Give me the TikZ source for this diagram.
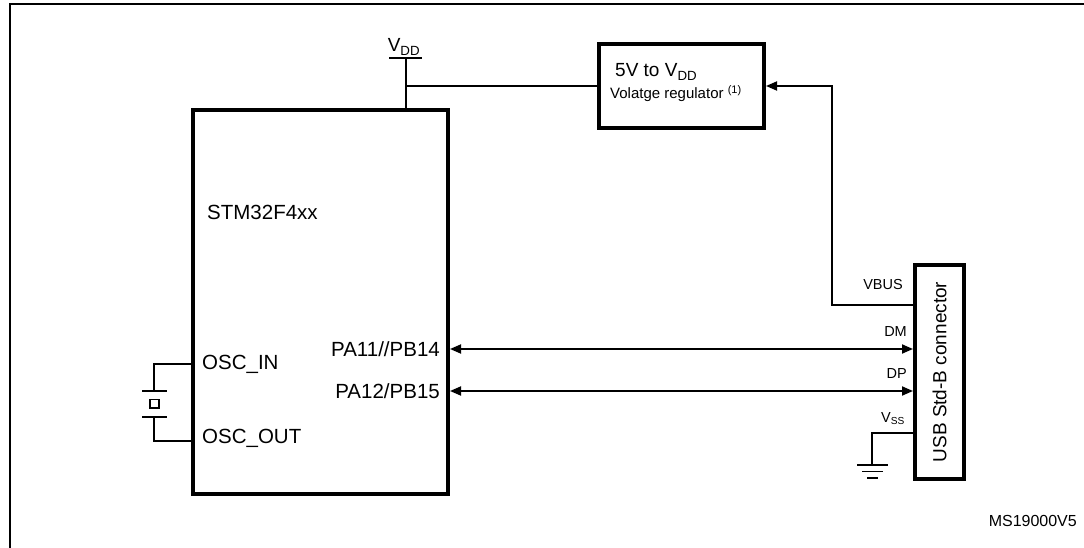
\documentclass[tikz,border=0pt]{standalone}
\usepackage{fontspec}
\setmainfont{Liberation Sans}
\usetikzlibrary{arrows.meta}
\begin{document}
\begin{tikzpicture}[x=1pt,y=-1pt,line join=miter,
  box/.style={draw,line width=4pt,inner sep=0pt,anchor=north west},
  wire/.style={line width=1.8pt},
  frame/.style={line width=2pt},
  tipd/.style={-{Triangle[length=11pt,width=9pt]}},
  tipb/.style={{Triangle[length=11pt,width=9pt]}-{Triangle[length=11pt,width=9pt]}},
  big/.style={font=\fontsize{20.5}{23}\selectfont,inner sep=0pt},
  mid/.style={font=\fontsize{19}{22}\selectfont,inner sep=0pt},
  small/.style={font=\fontsize{14.5}{16}\selectfont,inner sep=0pt}]
\useasboundingbox (0,0) rectangle (1084,548);
% frame (cropped)
\coordinate (fbl) at (9.5,548);
\coordinate (ftl) at (9.5,4);
\coordinate (ftr) at (1084,4);
\draw[frame] (fbl) -- (ftl) -- (ftr);
% boxes
\node[box,minimum width=255pt,minimum height=384pt] (mcu) at (191,108) {};
\node[box,minimum width=165pt,minimum height=84pt] (reg) at (597,42) {};
\node[box,minimum width=49pt,minimum height=214pt] (usb) at (913,263) {};
% texts
\node[big,anchor=west] (stm) at (207,212) {STM32F4xx};
\node[big,anchor=west] (oin) at (202,364) {OSC\_IN};
\node[big,anchor=west] (oout) at (202,438) {OSC\_OUT};
\node[big,anchor=east] (pa11) at (440,349) {PA11//PB14};
\node[big,anchor=east] (pa12) at (440,391) {PA12/PB15};
\node[mid,anchor=base west] (rt1) at (615,77) {5V to V\textsubscript{DD}};
\node[font=\fontsize{15}{17}\selectfont,inner sep=0pt,anchor=base west] (rt2) at (610,99) {Volatge regulator \raisebox{0.75ex}{\fontsize{11}{12}\selectfont (1)}};
\node[font=\fontsize{19}{22}\selectfont,inner sep=0pt,rotate=90] (usbt) at (usb.center) {USB Std-B connector};
\node[small,anchor=east] (lvbus) at (903,285) {VBUS};
\node[small,anchor=east] (ldm) at (907,332) {DM};
\node[small,anchor=east] (ldp) at (907,374) {DP};
\node[small,anchor=base east] (lvss) at (905,422) {V\textsubscript{SS}};
\node[mid,anchor=base] (lvdd) at (404,52) {V\textsubscript{DD}};
\node[font=\fontsize{16}{18}\selectfont,inner sep=0pt,anchor=east] (ms) at (1077,521) {MS19000V5};
% VDD
\coordinate (vdd) at (406,58);
\coordinate (vddl) at (389,58);
\coordinate (vddr) at (422,58);
\draw[wire] (vddl) -- (vddr);
\draw[wire] (mcu.north -| vdd) -- (vdd);
\draw[wire] (reg.west) -- (reg.west -| vdd);
% VBUS
\coordinate (vb) at (832,305);
\draw[wire,tipd] (usb.west |- vb) -- (vb) |- (reg.east);
% DM / DP
\coordinate (dm) at (0,349);
\coordinate (dp) at (0,391);
\draw[wire,tipb] (mcu.east |- dm) -- (usb.west |- dm);
\draw[wire,tipb] (mcu.east |- dp) -- (usb.west |- dp);
% VSS and ground
\coordinate (gs) at (872,433);
\coordinate (g0) at (872,465);
\draw[wire] (usb.west |- gs) -- (gs) -- (g0);
\coordinate (g1l) at (857,465); \coordinate (g1r) at (888,465);
\coordinate (g2l) at (862,471.5); \coordinate (g2r) at (883,471.5);
\coordinate (g3l) at (867,478); \coordinate (g3r) at (878,478);
\draw[wire] (g1l) -- (g1r);
\draw[wire] (g2l) -- (g2r);
\draw[wire] (g3l) -- (g3r);
% crystal
\coordinate (xin) at (154,364);
\coordinate (xout) at (154,441);
\coordinate (xp1) at (154,391);
\coordinate (xp2) at (154,417);
\draw[wire] (mcu.west |- xin) -- (xin) -- (xp1);
\draw[wire] (mcu.west |- xout) -- (xout) -- (xp2);
\coordinate (p1l) at (142,391); \coordinate (p1r) at (167,391);
\coordinate (p2l) at (142,417); \coordinate (p2r) at (167,417);
\draw[wire] (p1l) -- (p1r);
\draw[wire] (p2l) -- (p2r);
\coordinate (sq1) at (150,399.5); \coordinate (sq2) at (159,408);
\draw[wire] (sq1) rectangle (sq2);
\end{tikzpicture}
\end{document}
